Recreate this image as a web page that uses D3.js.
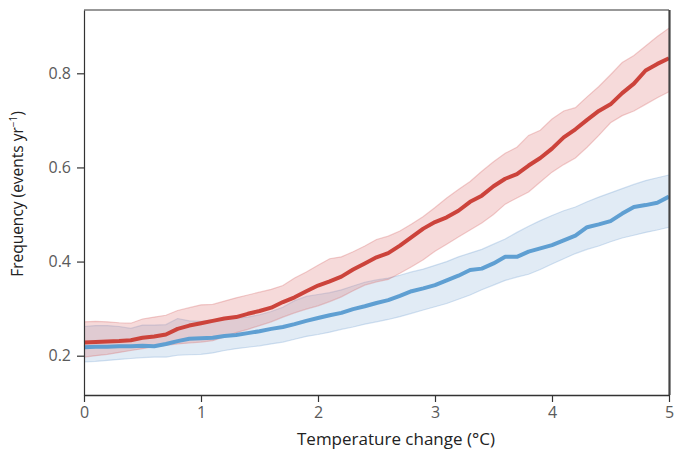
<!DOCTYPE html>
<html>
<head>
<meta charset="utf-8">
<script src="https://cdn.jsdelivr.net/npm/d3@7"></script>
<style>
  body { margin: 0; background: #fff; }
  svg { font-family: 'Open Sans', Roboto, sans-serif; }
</style>
</head>
<body>
<svg id="chart"></svg>
<script>
// temperature change steps (°C)
const temps = d3.range(0, 51).map((i) => i / 10);

// red series: mean, lower and upper bound
const redMean = [0.228, 0.229, 0.230, 0.231, 0.233, 0.238, 0.241, 0.245, 0.257, 0.264,
  0.269, 0.274, 0.279, 0.282, 0.289, 0.295, 0.302, 0.314, 0.324, 0.337,
  0.349, 0.358, 0.368, 0.383, 0.396, 0.409, 0.418, 0.434, 0.452, 0.470,
  0.484, 0.494, 0.508, 0.527, 0.540, 0.560, 0.576, 0.586, 0.604, 0.620,
  0.640, 0.664, 0.681, 0.701, 0.720, 0.734, 0.758, 0.778, 0.806, 0.820, 0.832];
const redLow = [0.197, 0.200, 0.203, 0.207, 0.211, 0.215, 0.219, 0.222, 0.225, 0.227,
  0.229, 0.232, 0.240, 0.249, 0.256, 0.264, 0.272, 0.282, 0.291, 0.299,
  0.306, 0.315, 0.325, 0.338, 0.350, 0.357, 0.362, 0.375, 0.389, 0.404,
  0.422, 0.437, 0.452, 0.467, 0.482, 0.500, 0.522, 0.535, 0.548, 0.569,
  0.590, 0.606, 0.620, 0.643, 0.668, 0.695, 0.710, 0.720, 0.734, 0.748, 0.761];
const redHigh = [0.272, 0.273, 0.272, 0.270, 0.269, 0.278, 0.282, 0.286, 0.296, 0.302,
  0.308, 0.309, 0.316, 0.323, 0.329, 0.335, 0.341, 0.349, 0.365, 0.378,
  0.392, 0.406, 0.410, 0.421, 0.433, 0.447, 0.454, 0.465, 0.480, 0.496,
  0.515, 0.535, 0.553, 0.570, 0.592, 0.612, 0.630, 0.643, 0.668, 0.679,
  0.703, 0.720, 0.727, 0.750, 0.772, 0.797, 0.823, 0.838, 0.858, 0.878, 0.896];

// blue series: mean, lower and upper bound
const blueMean = [0.218, 0.219, 0.219, 0.220, 0.220, 0.221, 0.220, 0.225, 0.231, 0.236,
  0.237, 0.238, 0.242, 0.244, 0.248, 0.252, 0.257, 0.261, 0.267, 0.274,
  0.280, 0.286, 0.291, 0.299, 0.305, 0.312, 0.318, 0.327, 0.337, 0.343,
  0.350, 0.360, 0.370, 0.382, 0.385, 0.396, 0.410, 0.410, 0.421, 0.428,
  0.435, 0.445, 0.455, 0.473, 0.479, 0.486, 0.502, 0.516, 0.520, 0.525, 0.538];
const blueLow = [0.187, 0.188, 0.190, 0.192, 0.194, 0.196, 0.197, 0.197, 0.201, 0.202,
  0.203, 0.206, 0.211, 0.215, 0.218, 0.221, 0.225, 0.229, 0.235, 0.241,
  0.245, 0.250, 0.256, 0.261, 0.267, 0.272, 0.277, 0.283, 0.290, 0.297,
  0.304, 0.311, 0.320, 0.329, 0.340, 0.350, 0.360, 0.367, 0.373, 0.383,
  0.395, 0.406, 0.417, 0.426, 0.433, 0.442, 0.450, 0.456, 0.462, 0.467, 0.473];
const blueHigh = [0.262, 0.264, 0.264, 0.262, 0.258, 0.265, 0.265, 0.266, 0.279, 0.274,
  0.273, 0.276, 0.278, 0.280, 0.282, 0.287, 0.294, 0.303, 0.317, 0.326,
  0.330, 0.334, 0.340, 0.348, 0.356, 0.361, 0.365, 0.371, 0.378, 0.384,
  0.392, 0.400, 0.410, 0.418, 0.426, 0.437, 0.448, 0.462, 0.475, 0.487,
  0.498, 0.508, 0.516, 0.527, 0.537, 0.546, 0.555, 0.564, 0.572, 0.578, 0.584];

const xTicks = [0, 1, 2, 3, 4, 5];
const yTicks = [0.2, 0.4, 0.6, 0.8];

const width = 674;
const height = 450;
const margin = { top: 10, right: 5, bottom: 55, left: 84 };

const svg = d3.select('#chart').attr('width', width).attr('height', height);

const xScale = d3
  .scaleLinear()
  .domain([0, 5])
  .range([margin.left, width - margin.right]);

const yScale = d3
  .scaleLinear()
  .domain([0.1165, 0.9345])
  .range([height - margin.bottom, margin.top]);

const series = [
  { mean: blueMean, low: blueLow, high: blueHigh, line: '#5f9fd2', fill: 'rgba(120,165,210,0.22)', edge: 'rgba(120,165,210,0.32)' },
  { mean: redMean, low: redLow, high: redHigh, line: '#cc433b', fill: 'rgba(222,120,120,0.27)', edge: 'rgba(215,110,110,0.33)' },
];

const drawBands = () => {
  series.forEach((s) => {
    const area = d3
      .area()
      .x((d, i) => xScale(temps[i]))
      .y0((d, i) => yScale(s.low[i]))
      .y1((d, i) => yScale(s.high[i]));
    svg
      .append('path')
      .datum(s.mean)
      .attr('d', area)
      .attr('fill', s.fill)
      .attr('stroke', 'none');

    ['low', 'high'].forEach((k) => {
      const edge = d3
        .line()
        .x((d, i) => xScale(temps[i]))
        .y((d) => yScale(d));
      svg
        .append('path')
        .datum(s[k])
        .attr('d', edge)
        .attr('fill', 'none')
        .attr('stroke', s.edge)
        .attr('stroke-width', 1.2);
    });
  });
};

const drawLines = () => {
  series.forEach((s) => {
    const line = d3
      .line()
      .x((d, i) => xScale(temps[i]))
      .y((d) => yScale(d));
    svg
      .append('path')
      .datum(s.mean)
      .attr('d', line)
      .attr('fill', 'none')
      .attr('stroke', s.line)
      .attr('stroke-width', 4)
      .attr('stroke-linejoin', 'round');
  });
};

const generateAxis = () => {
  const x0 = xScale(0);
  const x1 = xScale(5);
  const yTop = yScale.range()[1];
  const yBot = yScale.range()[0];

  // frame: top and right sides
  svg.append('line')
    .attr('x1', x0).attr('x2', x1)
    .attr('y1', yTop).attr('y2', yTop)
    .attr('stroke', '#333').attr('stroke-width', 1.2);
  svg.append('line')
    .attr('x1', x1 + 0.5).attr('x2', x1 + 0.5)
    .attr('y1', yTop).attr('y2', yBot)
    .attr('stroke', '#444').attr('stroke-width', 2.2);

  const xAxis = d3.axisBottom(xScale).tickValues(xTicks).tickFormat(d3.format('d')).tickSize(7).tickSizeOuter(0).tickPadding(5);
  const yAxis = d3.axisLeft(yScale).tickValues(yTicks).tickFormat(d3.format('.1f')).tickSize(7).tickSizeOuter(0).tickPadding(6);

  const gx = svg
    .append('g')
    .attr('transform', 'translate(0,' + yBot + ')')
    .call(xAxis);
  gx.select('.domain').attr('stroke', '#333').attr('stroke-width', 1.6);

  const gy = svg
    .append('g')
    .attr('transform', 'translate(' + x0 + ',0)')
    .call(yAxis);
  gy.select('.domain').attr('stroke', '#333').attr('stroke-width', 1.2);

  [gx, gy].forEach((g) => {
    g.selectAll('.tick line').attr('stroke', '#333').attr('stroke-width', 1.2);
    g.selectAll('.tick text')
      .attr('fill', '#5a5a5a')
      .style('font-size', '16px')
      .style('font-family', "'Open Sans', sans-serif");
  });
};

const infoText = () => {
  svg
    .append('text')
    .attr('x', 396)
    .attr('y', 445)
    .attr('text-anchor', 'middle')
    .attr('fill', '#222')
    .style('font-size', '17px')
    .text('Temperature change (°C)');

  const yl = svg
    .append('text')
    .attr('transform', 'translate(23,194) rotate(-90)')
    .attr('text-anchor', 'middle')
    .attr('fill', '#222')
    .style('font-size', '15.5px');
  yl.append('tspan').text('Frequency (events yr');
  yl.append('tspan').text('−1').style('font-size', '10px').attr('dy', '-6');
  yl.append('tspan').text(')').attr('dy', '6');
};

drawBands();
drawLines();
generateAxis();
infoText();
</script>
</body>
</html>
